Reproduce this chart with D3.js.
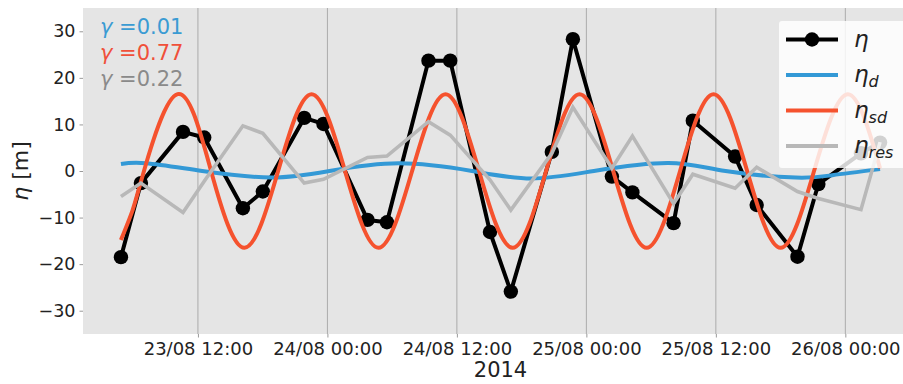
<!DOCTYPE html>
<html>
<head>
<meta charset="utf-8">
<script src="https://cdn.jsdelivr.net/npm/d3@7"></script>
<style>
  body { margin: 0; background: #fff; }
  svg { display: block; }
  text { font-family: "DejaVu Sans", sans-serif; }
</style>
</head>
<body>
<svg id="chart" width="903" height="384"></svg>
<script>
const parse = d3.timeParse("%Y-%m-%d %H:%M");

// Observation times (shared by η and η_res)
const obsTimes = [
  "2014-08-23 04:52","2014-08-23 06:43","2014-08-23 10:37","2014-08-23 12:35",
  "2014-08-23 16:10","2014-08-23 18:01","2014-08-23 21:51","2014-08-23 23:38",
  "2014-08-24 03:43","2014-08-24 05:31","2014-08-24 09:22","2014-08-24 11:23",
  "2014-08-24 15:04","2014-08-24 17:00","2014-08-24 20:48","2014-08-24 22:45",
  "2014-08-25 02:22","2014-08-25 04:16","2014-08-25 08:05","2014-08-25 09:52",
  "2014-08-25 13:47","2014-08-25 15:47","2014-08-25 19:34","2014-08-25 21:30",
  "2014-08-26 01:27","2014-08-26 03:13"
];
// η [m]
const eta = [
  -18.5, -2.6, 8.4, 7.2, -8.0, -4.4, 11.4, 10.1,
  -10.5, -11.0, 23.7, 23.7, -13.1, -25.9, 4.1, 28.3,
  -1.2, -4.6, -11.2, 10.8, 3.1, -7.3, -18.4, -2.8,
  3.8, 6.1
];
// η_res [m]
const etaRes = [
  -5.5, -2.6, -8.9, -2.2, 9.7, 8.1, -2.6, -1.8,
  2.9, 3.2, 10.6, 7.7, -1.9, -8.4, 3.8, 13.7,
  0.6, 7.5, -7.0, -0.7, -3.7, 0.8, -4.4, -5.9,
  -8.3, 6.2
];

// Semidiurnal component η_sd: extrema and zero crossings
const sdTimes = [
  "2014-08-23 04:52","2014-08-23 05:56","2014-08-23 07:00","2014-08-23 10:07",
  "2014-08-23 13:13","2014-08-23 16:19","2014-08-23 19:26","2014-08-23 22:32",
  "2014-08-24 01:38","2014-08-24 04:44","2014-08-24 07:51","2014-08-24 10:57",
  "2014-08-24 14:03","2014-08-24 17:10","2014-08-24 20:16","2014-08-24 23:22",
  "2014-08-25 02:29","2014-08-25 05:35","2014-08-25 08:41","2014-08-25 11:47",
  "2014-08-25 14:54","2014-08-25 18:00","2014-08-25 21:06","2014-08-26 00:13",
  "2014-08-26 03:13"
];
const etaSd = [
  -14.8, -8.5, 0, 16.5,
  0, -16.5, 0, 16.5,
  0, -16.5, 0, 16.5,
  0, -16.5, 0, 16.5,
  0, -16.5, 0, 16.5,
  0, -16.5, 0, 16.5,
  0.6
];

// Diurnal component η_d
const dTimes = [
  "2014-08-23 04:52","2014-08-23 07:12","2014-08-23 12:24","2014-08-23 18:48",
  "2014-08-24 00:12","2014-08-24 06:36","2014-08-24 13:24","2014-08-24 18:54",
  "2014-08-25 00:42","2014-08-25 07:36","2014-08-25 12:54","2014-08-25 19:24",
  "2014-08-25 22:48","2014-08-26 03:13"
];
const etaD = [1.5, 1.65, 0, -1.4, 0, 1.65, 0, -1.6, 0, 1.7, 0, -1.4, -0.9, 0.4];

const xTickTimes = ["2014-08-23 12:00","2014-08-24 00:00","2014-08-24 12:00",
                    "2014-08-25 00:00","2014-08-25 12:00","2014-08-26 00:00"];
const yTicks = [-30, -20, -10, 0, 10, 20, 30];
const gammaValues = ["0.01", "0.77", "0.22"];

const C = { d: "#3399d6", sd: "#f5522e", res: "#b8b8b8", eta: "#000000" };
const gammaColors = ["#3a9bd3", "#f0503a", "#8a8a8a"];

const svg = d3.select("#chart");
const plot = { left: 83, right: 918, top: 8, bottom: 334 };

const t0 = parse(obsTimes[0]), t1 = parse(obsTimes[obsTimes.length - 1]);
const pad = (t1 - t0) * 0.05;
const x = d3.scaleTime()
  .domain([new Date(+t0 - pad), new Date(+t1 + pad)])
  .range([plot.left, plot.right]);
const y = d3.scaleLinear().domain([-35, 35]).range([plot.bottom, plot.top]);

// background
svg.append("rect")
  .attr("x", plot.left).attr("y", plot.top)
  .attr("width", plot.right - plot.left).attr("height", plot.bottom - plot.top)
  .attr("fill", "#e5e5e5");

// vertical grid
const xTicks = xTickTimes.map(parse);
svg.append("g").selectAll("line").data(xTicks).join("line")
  .attr("x1", d => x(d)).attr("x2", d => x(d))
  .attr("y1", plot.top).attr("y2", plot.bottom)
  .attr("stroke", "#ababab").attr("stroke-width", 1);

// x axis
const fmt = d3.timeFormat("%d/%m %H:%M");
const xAxis = svg.append("g")
  .attr("transform", `translate(0,${plot.bottom})`)
  .call(d3.axisBottom(x).tickValues(xTicks).tickFormat(fmt).tickSize(3.5).tickPadding(5));
xAxis.select(".domain").remove();
xAxis.selectAll("line").attr("stroke", "#9a9a9a");
xAxis.selectAll("text").attr("font-size", 18).attr("fill", "#222")
  .attr("font-family", "DejaVu Sans");

// y axis
const yAxis = svg.append("g")
  .attr("transform", `translate(${plot.left},0)`)
  .call(d3.axisLeft(y).tickValues(yTicks).tickFormat(d => d < 0 ? "\u2212" + Math.abs(d) : d)
        .tickSize(3.5).tickPadding(4));
yAxis.select(".domain").remove();
yAxis.selectAll("line").attr("stroke", "#9a9a9a");
yAxis.selectAll("text").attr("font-size", 17.5).attr("fill", "#222")
  .attr("font-family", "DejaVu Sans");

// axis labels
svg.append("text")
  .attr("x", (plot.left + plot.right) / 2).attr("y", 377)
  .attr("text-anchor", "middle").attr("font-size", 21).attr("fill", "#222")
  .text("2014");
const yl = svg.append("text")
  .attr("transform", `translate(28,171) rotate(-90)`)
  .attr("text-anchor", "middle").attr("font-size", 22).attr("fill", "#222");
yl.append("tspan").attr("font-style", "italic").text("η");
yl.append("tspan").text(" [m]");

// series
const obs = obsTimes.map((t, i) => ({ t: parse(t), eta: eta[i], res: etaRes[i] }));
const sd = sdTimes.map((t, i) => ({ t: parse(t), v: etaSd[i] }));
const dd = dTimes.map((t, i) => ({ t: parse(t), v: etaD[i] }));

const g = svg.append("g");
g.append("path").datum(obs)
  .attr("fill", "none").attr("stroke", C.eta).attr("stroke-width", 4)
  .attr("stroke-linejoin", "round")
  .attr("d", d3.line().x(d => x(d.t)).y(d => y(d.eta)));
g.append("g").selectAll("circle").data(obs).join("circle")
  .attr("cx", d => x(d.t)).attr("cy", d => y(d.eta)).attr("r", 7.2)
  .attr("fill", C.eta);

g.append("path").datum(dd)
  .attr("fill", "none").attr("stroke", C.d).attr("stroke-width", 4)
  .attr("d", d3.line().curve(d3.curveNatural).x(d => x(d.t)).y(d => y(d.v)));

g.append("path").datum(sd)
  .attr("fill", "none").attr("stroke", C.sd).attr("stroke-width", 4)
  .attr("d", d3.line().curve(d3.curveNatural).x(d => x(d.t)).y(d => y(d.v)));

g.append("path").datum(obs)
  .attr("fill", "none").attr("stroke", C.res).attr("stroke-width", 3.6)
  .attr("stroke-linejoin", "miter")
  .attr("d", d3.line().x(d => x(d.t)).y(d => y(d.res)));

// γ annotations
gammaValues.forEach((v, i) => {
  const t = svg.append("text")
    .attr("x", 100).attr("y", 34 + i * 26)
    .attr("font-size", 21).attr("fill", gammaColors[i]);
  t.append("tspan").attr("font-style", "italic").text("γ");
  t.append("tspan").text(" =" + v);
});

// legend
const leg = svg.append("g");
leg.append("rect")
  .attr("x", 779).attr("y", 21).attr("width", 140).attr("height", 147)
  .attr("rx", 3).attr("fill", "#ffffff").attr("fill-opacity", 0.82);
const legendItems = [
  { color: C.eta, sub: null, marker: true },
  { color: C.d, sub: "d" },
  { color: C.sd, sub: "sd" },
  { color: C.res, sub: "res" }
];
legendItems.forEach((it, i) => {
  const cy = 39.5 + i * 35.5;
  leg.append("line")
    .attr("x1", 786).attr("x2", 838).attr("y1", cy).attr("y2", cy)
    .attr("stroke", it.color).attr("stroke-width", 4);
  if (it.marker) {
    leg.append("circle").attr("cx", 812).attr("cy", cy).attr("r", 7.2).attr("fill", it.color);
  }
  const t = leg.append("text")
    .attr("x", 854).attr("y", cy + 7)
    .attr("font-size", 23).attr("font-style", "italic").attr("fill", "#222");
  t.append("tspan").text("η");
  if (it.sub) {
    t.append("tspan").attr("font-size", 16).attr("dy", 5).text(it.sub);
  }
});
</script>
</body>
</html>
